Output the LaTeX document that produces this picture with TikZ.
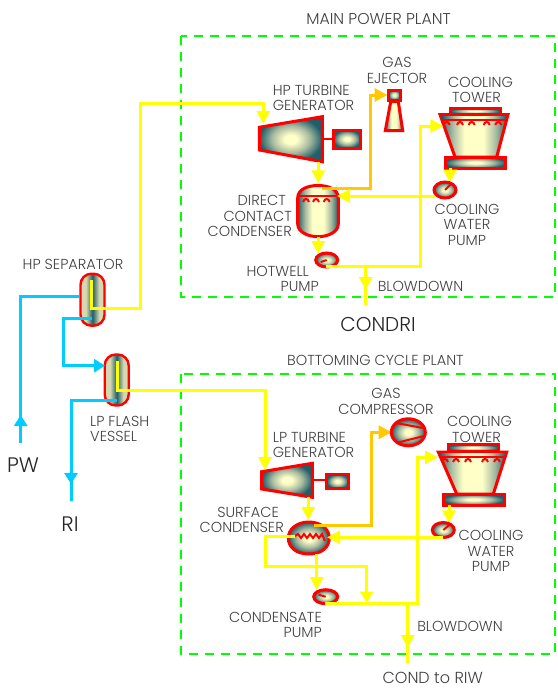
\documentclass[tikz,border=0pt]{standalone}
\usepackage{fontspec}
\setmainfont{Poppins Light}
\usetikzlibrary{arrows.meta}
\definecolor{ylw}{HTML}{FFFF00}
\definecolor{org}{HTML}{FFC800}
\definecolor{blu}{HTML}{00CCFF}
\definecolor{grn}{HTML}{00FF00}
\definecolor{tl}{HTML}{1F5F68}
\definecolor{pl}{HTML}{FFFFC8}
\definecolor{md}{HTML}{A8BAA0}
\definecolor{sp}{HTML}{D8D8B0}
\definecolor{txt}{HTML}{404040}
\pgfdeclareradialshading{eqrad}{\pgfpoint{0bp}{0bp}}{color(0bp)=(pl);color(5bp)=(pl);color(15bp)=(md);color(25bp)=(tl);color(50bp)=(tl)}
\pgfdeclarehorizontalshading{eqh}{100bp}{color(0bp)=(tl);color(25bp)=(tl);color(34bp)=(md);color(43bp)=(pl);color(57bp)=(pl);color(66bp)=(md);color(75bp)=(tl);color(100bp)=(tl)}
\pgfdeclarehorizontalshading{seph}{100bp}{color(0bp)=(sp);color(36bp)=(sp);color(50bp)=(tl);color(64bp)=(sp);color(100bp)=(sp)}
\tikzset{
 lbl/.style={font=\fontsize{14.5}{15.5}\selectfont,text=txt,align=center,inner sep=0pt},
 big/.style={font=\fontsize{21}{21}\selectfont,text=black!85,inner sep=0pt},
 equipv/.style={draw=red,line width=3pt,shading=eqh},
 equipr/.style={draw=red,line width=3pt,shading=eqrad},
 sep/.style={draw=red,line width=2.4pt,shading=seph,rounded corners=11pt},
 yl/.style={draw=ylw,line width=3pt},
 ol/.style={draw=org,line width=3pt},
 bl/.style={draw=blu,line width=3pt},
 tipy/.style={-{Triangle[length=13pt,width=13pt]}},
 tips/.style={-{Triangle[length=11pt,width=13pt]}},
 box/.style={draw=grn,line width=2.5pt,dash pattern=on 9pt off 7pt},
 wire/.style={draw=red,line width=2pt}
}
% x y rx ry dx dy: a pump with one stroke from its rim to its centre
\newcommand{\pumpat}[6]{%
 \shade[shading=eqrad,draw=red,line width=3pt] (#1,#2) ellipse [x radius=#3,y radius=#4];
 \draw[wire] (#1+#5,#2+#6) -- (#1,#2);}
\newcommand{\archs}[2]{\foreach \xx in {#2}{\draw[wire] (\xx-3,#1+3) .. controls (\xx-2,#1-1) and (\xx+2,#1-1) .. (\xx+3,#1+3);}}
\begin{document}
\begin{tikzpicture}[x=1pt,y=-1pt]
\useasboundingbox (0,0) rectangle (557,688);
% plant boxes
\draw[box] (181,36) rectangle (555,297);
\draw[box] (181,374) rectangle (555,654);
% --- separators
\node[sep,minimum width=24pt,minimum height=52pt,inner sep=0pt,anchor=center] (hpsep) at (92.5,299.7) {};
\node[sep,minimum width=24pt,minimum height=51pt,inner sep=0pt,anchor=center] (lpflash) at (116.7,380) {};
% blue lines
\coordinate (pw) at (20.7,443);
\coordinate (pwm) at (20.7,415);
\draw[bl] (pw) -- (20.7,296.7) -- (hpsep.west|-0,296.7);
\draw[bl,tips] (pw) -- (pwm);
\draw[bl,tips] (91.7,318.3) -- (63.3,318.3) -- (63.3,365.7) -- (105,365.7);
\coordinate (ri) at (71,500.7);
\draw[bl,tips] (116.7,400.7) -- (71,400.7) -- (71,484);
\draw[bl] (71,480) -- (ri);
% yellow from separators
\coordinate (hpin) at (263.3,124);
\coordinate (lpin) at (265,470);
\draw[yl,tipy] (91.7,280) -- (91.7,308.7) -- (140,308.7) -- (140,103) -- (263.3,103) -- (hpin);
\draw[yl,tipy] (117.3,360.7) -- (117.3,390.7) -- (265,390.7) -- (lpin);
% --- main plant equipment
\draw[equipr] (259.3,127.3) -- (322.3,116.7) -- (322.3,161.7) -- (259.3,150) -- cycle;
\draw[wire] (322.3,139) -- (333.3,139);
\shade[equipr] (333.3,130) rectangle (360.7,148);
\coordinate (hpt) at (318.3,161.7);
\coordinate (dcc) at (318.3,183.3);
\draw[yl,tipy] (hpt) -- (dcc);
\draw[equipv] (297.7,198) .. controls (297.7,189) and (308,185.5) .. (318,185.5) .. controls (328,185.5) and (338.3,189) .. (338.3,198) -- (338.3,224) .. controls (338.3,232) and (328,236.7) .. (318,236.7) .. controls (308,236.7) and (297.7,232) .. (297.7,224) -- cycle;
\draw[wire] (298,195.7) -- (338,195.7);
\archs{199}{306,316,326.7}
\draw[ol,tipy] (321.7,188.3) -- (370,188.3) -- (370,95) -- (387.5,95);
% ejector
\draw[equipv] (390.7,101.7) -- (398.3,101.7) -- (402.7,130.7) -- (385.3,130.7) -- cycle;
\shade[equipr] (388.5,90) rectangle (400,100);
% tower main
\shade[equipr] (450,108) rectangle (500,114);
\draw[equipv] (440,114.5) -- (508,114.5) -- (496.7,157) -- (455,157) -- cycle;
\shade[shading=eqh] (442,116) rectangle (506,120);
\draw[wire] (441,120) -- (507,120);
\archs{122}{446.7,460,471.7,486.7,498.3}
\shade[equipr] (445,157) rectangle (505.7,168.3);
\draw[yl,tipy] (450,168.3) -- (450,182.7);
\pumpat{445}{190}{11}{8}{6}{-6}
\draw[yl,tipy] (435,196) -- (337,196);
\pumpat{326.7}{260}{11}{7}{-6}{2}
\draw[yl,tipy] (318.3,236.7) -- (318.3,254);
\draw[yl,tipy] (326,266.7) -- (420,266.7) -- (420,126) -- (443.3,126);
\draw[yl] (365.7,266.7) -- (365.7,305);
\draw[yl,tipy] (365.7,266.7) -- (365.7,290);
% --- bottoming plant
\draw[equipr] (261.7,471.7) -- (312.3,463.3) -- (312.3,497.3) -- (261.7,489) -- cycle;
\draw[wire] (312.3,480) -- (326.7,480);
\shade[equipr] (326.7,474.3) rectangle (348.3,488.3);
\draw[yl,tipy] (308.3,497.3) -- (308.3,520);
\shade[equipr] (308.8,522) .. controls (296,522) and (288.3,530) .. (288.3,538) .. controls (288.3,547) and (296,554) .. (308.8,554) .. controls (322,554) and (329.3,547) .. (329.3,538) .. controls (329.3,530) and (322,522) .. (308.8,522) -- cycle;
\draw[wire] (295,536) -- (298,534) -- (301,538) -- (304,534) -- (307,538) -- (310,534) -- (313,538) -- (316,534) -- (319,538) -- (322,534) -- (325,541);
\draw[ol,tipy] (314,525.7) -- (371,525.7) -- (371,432.3) -- (391.7,432.3);
\shade[shading=eqrad,draw=red,line width=3pt] (408.3,432.3) ellipse [x radius=17,y radius=13.5];
\draw[wire] (396,423) -- (423,428);
\draw[wire] (396,443) -- (424,436);
\shade[equipr] (448.3,444.3) rectangle (498.3,451);
\draw[equipv] (438.3,452) -- (506.7,452) -- (493.3,494) -- (456.7,494) -- cycle;
\shade[shading=eqh] (440,453.5) rectangle (505,457);
\draw[wire] (439,457) -- (506,457);
\archs{459}{445,456,468,485,497}
\shade[equipr] (443.3,494) rectangle (504,505);
\draw[yl,tipy] (449,505) -- (449,523.3);
\pumpat{443.3}{530}{11}{7.5}{6}{-5}
\draw[yl,tipy] (443,537.3) -- (327,537.3);
\draw[yl,tips] (295,536.7) -- (265,536.7) -- (265,566.7) -- (366.7,566.7) -- (366.7,602.7);
\pumpat{325.7}{596.7}{12}{7}{-7}{-2}
\draw[yl,tipy] (316.7,554) -- (316.7,590);
\draw[yl,tipy] (325,603.3) -- (417.7,603.3) -- (417.7,457.3) -- (438,457.3);
\draw[yl] (407.7,603.3) -- (407.7,663);
\draw[yl,tipy] (407.7,603.3) -- (407.7,648);
% --- labels
\node[lbl,font=\fontsize{15.7}{15.7}\selectfont] (t1) at (378.5,19) {MAIN POWER PLANT};
\node[lbl,align=left,anchor=west] (t2) at (272.7,98) {HP TURBINE\\GENERATOR};
\node[lbl] (t3) at (397,70.5) {GAS\\EJECTOR};
\node[lbl,align=left,anchor=west] (t4) at (448,90) {COOLING\\\hspace{4pt}TOWER};
\node[lbl,align=right,anchor=east] (t5) at (292,216) {DIRECT\rule{6pt}{0pt}\\CONTACT\\CONDENSER};
\node[lbl] (t6) at (467,224.5) {COOLING\\WATER\\PUMP};
\node[lbl,align=right,anchor=east] (t7) at (319,279) {HOTWELL\rule{10pt}{0pt}\\PUMP};
\node[lbl] (t8) at (420.5,286) {BLOWDOWN};
\node[big,font=\fontsize{20}{20}\selectfont] (t9) at (378,324) {CONDRI};
\node[lbl] (t10) at (73,264) {HP SEPARATOR};
\node[lbl,align=left,anchor=west] (t11) at (90,429) {LP FLASH\\VESSEL};
\node[big] (t12) at (23,465) {PW};
\node[big] (t13) at (70,524) {RI};
\node[lbl] (t14) at (375.5,360) {BOTTOMING CYCLE PLANT};
\node[lbl] (t15) at (386,401.5) {GAS\\COMPRESSOR};
\node[lbl,align=left,anchor=west] (t16) at (272.7,445) {LP TURBINE\\GENERATOR};
\node[lbl,align=left,anchor=west] (t17) at (447,429.5) {COOLING\\\hspace{5pt}TOWER};
\node[lbl,align=right,anchor=east] (t18) at (284,520) {SURFACE\rule{5pt}{0pt}\\CONDENSER};
\node[lbl] (t19) at (491,551) {COOLING\\WATER\\PUMP};
\node[lbl,align=right,anchor=east] (t20) at (322,625) {CONDENSATE\\PUMP};
\node[lbl] (t21) at (460,626.7) {BLOWDOWN};
\node[lbl,font=\fontsize{16}{16}\selectfont] (t22) at (432.7,677.5) {COND to RIW};
\end{tikzpicture}
\end{document}
